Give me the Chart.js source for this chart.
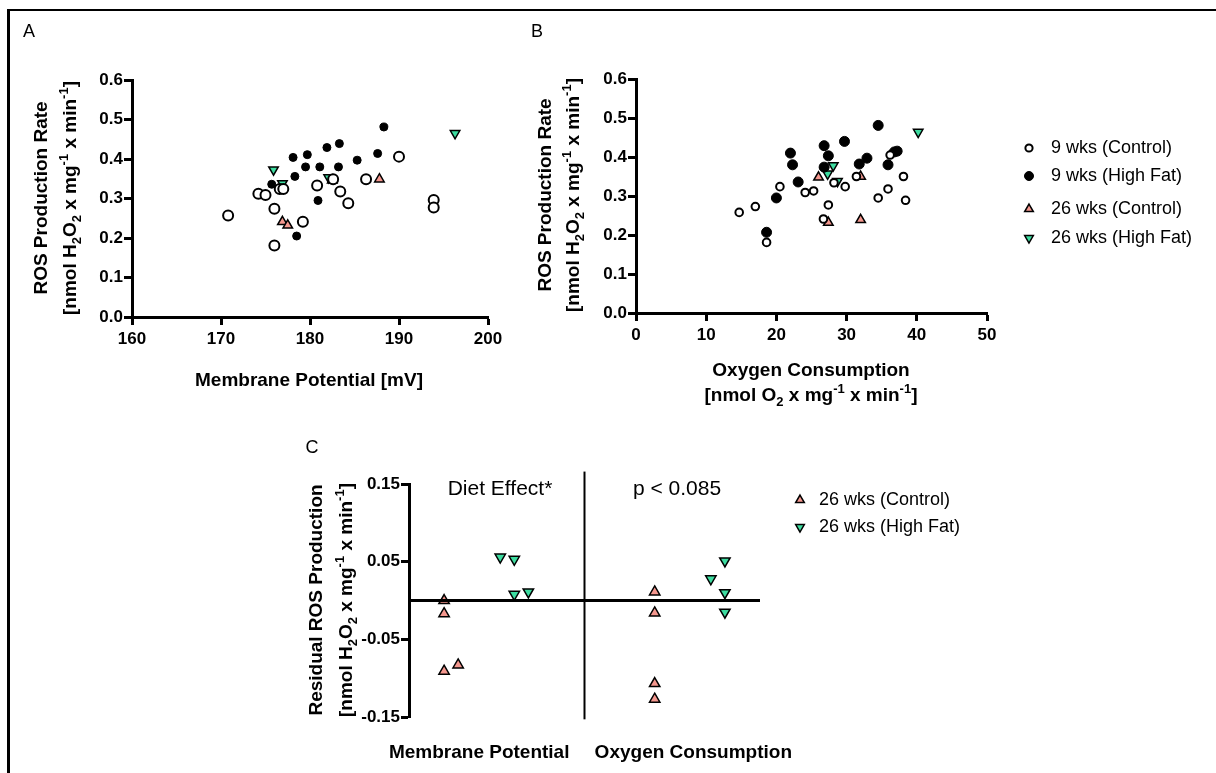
<!DOCTYPE html>
<html>
<head>
<meta charset="utf-8">
<title>ROS production vs membrane potential and oxygen consumption</title>
<script src="https://cdn.jsdelivr.net/npm/chart.js@4.4.1/dist/chart.umd.min.js"></script>
<style>
  html, body { margin: 0; padding: 0; background: #fff; }
  #stage { position: relative; width: 1216px; height: 773px; overflow: hidden; }
  #stage canvas { position: absolute; left: 0; top: 0; }
  #frame { position: absolute; left: 7px; top: 9px; width: 1240px; height: 800px;
           border-top: 2px solid #000; border-left: 3px solid #000; }
</style>
</head>
<body>
<div id="stage">
  <div id="frame"></div>
  <canvas id="chartA" width="1216" height="773"></canvas>
  <canvas id="chartB" width="1216" height="773"></canvas>
  <canvas id="chartC" width="1216" height="773"></canvas>
</div>
<script>
// ---- data ----
// Panel A: membrane potential [mV] vs ROS production rate
const mpCtl9 = [170.8, 174.2, 175.0, 176.0, 176.0, 176.6, 177.0, 179.2, 180.8, 182.6, 183.4, 184.3, 186.3, 190.0, 193.9, 193.9];
const rosCtl9A = [0.257, 0.312, 0.309, 0.274, 0.181, 0.324, 0.324, 0.241, 0.333, 0.349, 0.318, 0.288, 0.349, 0.406, 0.296, 0.277];
const mpHf9 = [175.7, 177.1, 178.1, 178.3, 178.5, 179.5, 179.7, 180.9, 181.1, 181.9, 183.2, 183.3, 185.3, 187.6, 188.3];
const rosHf9A = [0.336, 0.324, 0.404, 0.356, 0.205, 0.380, 0.411, 0.295, 0.380, 0.429, 0.380, 0.439, 0.397, 0.414, 0.481];
const mpCtl26 = [176.9, 177.5, 182.5, 187.8];
const rosCtl26A = [0.241, 0.232, 0.346, 0.349];
const mpHf26 = [175.9, 176.9, 182.1, 196.3];
const rosHf26A = [0.373, 0.338, 0.353, 0.465];

// Panel B: oxygen consumption vs ROS production rate
const ocCtl9 = [14.7, 17.0, 18.6, 20.5, 24.1, 25.3, 26.7, 27.4, 28.2, 29.8, 31.4, 34.5, 35.9, 36.2, 38.1, 38.4];
const rosCtl9B = [0.258, 0.273, 0.181, 0.324, 0.309, 0.313, 0.241, 0.277, 0.334, 0.324, 0.350, 0.295, 0.318, 0.405, 0.350, 0.289];
const ocHf9 = [18.6, 20.0, 22.0, 22.3, 23.1, 26.8, 27.4, 26.8, 29.7, 31.8, 32.9, 34.5, 35.9, 36.8, 37.2];
const rosHf9B = [0.207, 0.295, 0.410, 0.380, 0.336, 0.429, 0.403, 0.374, 0.440, 0.382, 0.397, 0.481, 0.380, 0.413, 0.415];
const ocCtl26 = [26.0, 27.4, 32.0, 32.0];
const rosCtl26B = [0.348, 0.232, 0.350, 0.239];
const ocHf26 = [27.3, 28.1, 28.7, 40.2];
const rosHf26B = [0.357, 0.378, 0.338, 0.464];

// Panel C: residuals, two groups with jittered positions
const groupNames = ['Membrane Potential', 'Oxygen Consumption'];
const groupCenters = [1, 4.05];
const residCtlX = [0.5, 0.5, 0.5, 0.7, 3.5, 3.5, 3.5, 3.5];
const residCtlY = [0.0, -0.017, -0.091, -0.083, 0.011, -0.016, -0.107, -0.127];
const residHfX = [1.3, 1.5, 1.5, 1.7, 4.3, 4.5, 4.5, 4.5];
const residHfY = [0.056, 0.053, 0.008, 0.011, 0.028, 0.051, 0.010, -0.015];
const residTicks = [-0.15, -0.05, 0.05, 0.15];
const groupDivider = 2.5;

const rosTicks = [0, 0.1, 0.2, 0.3, 0.4, 0.5, 0.6];
const mpTicks = [160, 170, 180, 190, 200];
const ocTicks = [0, 10, 20, 30, 40, 50];

const legendLabels = ['9 wks (Control)', '9 wks (High Fat)', '26 wks (Control)', '26 wks (High Fat)'];

// ---- styling ----
const FONT = '"Liberation Sans", Arial, Helvetica, sans-serif';
const SALMON = '#f4978e';
const TEAL = '#3ddca0';
const W = 1216, H = 773;

const marks = [
  { pointStyle: 'circle', pointRotation: 0, pointBackgroundColor: '#ffffff' },
  { pointStyle: 'circle', pointRotation: 0, pointBackgroundColor: '#000000' },
  { pointStyle: 'triangle', pointRotation: 0, pointBackgroundColor: SALMON },
  { pointStyle: 'triangle', pointRotation: 180, pointBackgroundColor: TEAL }
];

function points(xs, ys) {
  return xs.map((x, i) => ({ x: x, y: ys[i] }));
}

function scatterSet(xs, ys, mark, radius, borderWidth) {
  return Object.assign({
    data: points(xs, ys),
    pointRadius: radius,
    pointHoverRadius: radius,
    pointBorderColor: '#000',
    pointBorderWidth: borderWidth,
    clip: false
  }, mark);
}

function axis(min, max, tickValues, fmt, fitSize, isX) {
  return {
    type: 'linear',
    min: min,
    max: max,
    border: { display: true, color: '#000', width: 3 },
    grid: { display: true, drawOnChartArea: false, drawTicks: true, tickLength: 8, tickWidth: 3, tickColor: '#000' },
    ticks: {
      color: '#000',
      padding: isX ? 4 : 1,
      autoSkip: false,
      maxRotation: 0,
      font: { family: FONT, size: 17, weight: 'bold' },
      callback: (v) => fmt(v)
    },
    afterBuildTicks: (scale) => { scale.ticks = tickValues.map(v => ({ value: v })); },
    afterFit: (scale) => {
      if (isX) { scale.height = fitSize; } else { scale.width = fitSize; }
    }
  };
}

// chart area placed at fixed page coordinates
function areaPadding(left, top, right, bottom, yWidth, xHeight) {
  return { left: left - yWidth, top: top, right: W - right, bottom: H - bottom - xHeight };
}

// text with sub/superscripts, centred on (x, y)
function drawRich(ctx, item) {
  const size = item.size;
  const small = Math.round(size * 0.66);
  const weight = item.bold ? 'bold ' : '';
  ctx.save();
  ctx.translate(item.x, item.y);
  if (item.rotate) { ctx.rotate(-Math.PI / 2); }
  ctx.fillStyle = '#000';
  ctx.textBaseline = 'middle';
  ctx.textAlign = 'left';
  let total = 0;
  item.parts.forEach(p => {
    ctx.font = weight + (p[1] ? small : size) + 'px ' + FONT;
    total += ctx.measureText(p[0]).width;
  });
  let cx = item.align === 'left' ? 0 : -total / 2;
  item.parts.forEach(p => {
    ctx.font = weight + (p[1] ? small : size) + 'px ' + FONT;
    let dy = 0;
    if (p[1] === 'sub') { dy = size * 0.32; }
    if (p[1] === 'sup') { dy = -size * 0.36; }
    ctx.fillText(p[0], cx, dy);
    cx += ctx.measureText(p[0]).width;
  });
  ctx.restore();
}

function plain(t) { return [[t, '']]; }

const unitH2O2 = [['[nmol H', ''], ['2', 'sub'], ['O', ''], ['2', 'sub'], [' x mg', ''], ['-1', 'sup'], [' x min', ''], ['-1', 'sup'], [']', '']];
const unitO2 = [['[nmol O', ''], ['2', 'sub'], [' x mg', ''], ['-1', 'sup'], [' x min', ''], ['-1', 'sup'], [']', '']];

function textPlugin(id, items, legend) {
  return {
    id: id,
    afterDraw(chart) {
      const ctx = chart.ctx;
      items.forEach(it => drawRich(ctx, it));
      if (legend) {
        legend.rows.forEach(row => {
          const m = marks[row.idx];
          ctx.save();
          ctx.fillStyle = m.pointBackgroundColor;
          ctx.strokeStyle = '#000';
          ctx.lineWidth = row.border;
          Chart.helpers.drawPoint(ctx, {
            pointStyle: m.pointStyle, rotation: m.pointRotation,
            radius: row.radius, borderWidth: row.border
          }, legend.markX, row.y);
          ctx.restore();
          drawRich(ctx, { parts: plain(legendLabels[row.idx]), x: legend.textX, y: row.y, size: 18, align: 'left' });
        });
      }
    }
  };
}

const fmt1 = v => v.toFixed(1);
const fmt0 = v => String(v);
const fmt2 = v => v.toFixed(2);

const baseOptions = {
  responsive: false,
  animation: false,
  events: [],
  plugins: { legend: { display: false }, tooltip: { enabled: false } }
};

// ---- panel A ----
new Chart(document.getElementById('chartA'), {
  type: 'scatter',
  data: {
    datasets: [
      scatterSet(mpCtl9, rosCtl9A, marks[0], 5, 2),
      scatterSet(mpHf9, rosHf9A, marks[1], 4, 1),
      scatterSet(mpCtl26, rosCtl26A, marks[2], 5.5, 1.5),
      scatterSet(mpHf26, rosHf26A, marks[3], 5.5, 1.5)
    ]
  },
  options: Object.assign({}, baseOptions, {
    layout: { autoPadding: false, padding: areaPadding(132, 80, 488, 317, 60, 40) },
    scales: {
      x: axis(160, 200, mpTicks, fmt0, 40, true),
      y: axis(0, 0.6, rosTicks, fmt1, 60, false)
    }
  }),
  plugins: [textPlugin('textsA', [
    { parts: plain('A'), x: 29, y: 32, size: 18 },
    { parts: plain('ROS Production Rate'), x: 42, y: 198, size: 19, bold: true, rotate: true },
    { parts: unitH2O2, x: 71, y: 198, size: 19, bold: true, rotate: true },
    { parts: plain('Membrane Potential [mV]'), x: 309, y: 381, size: 19, bold: true }
  ])]
});

// ---- panel B ----
new Chart(document.getElementById('chartB'), {
  type: 'scatter',
  data: {
    datasets: [
      scatterSet(ocCtl9, rosCtl9B, marks[0], 3.8, 2),
      scatterSet(ocHf9, rosHf9B, marks[1], 5, 1),
      scatterSet(ocCtl26, rosCtl26B, marks[2], 5.5, 1.5),
      scatterSet(ocHf26, rosHf26B, marks[3], 5.5, 1.5)
    ]
  },
  options: Object.assign({}, baseOptions, {
    layout: { autoPadding: false, padding: areaPadding(636, 79, 987, 313, 60, 40) },
    scales: {
      x: axis(0, 50, ocTicks, fmt0, 40, true),
      y: axis(0, 0.6, rosTicks, fmt1, 60, false)
    }
  }),
  plugins: [textPlugin('textsB', [
    { parts: plain('B'), x: 537, y: 32, size: 18 },
    { parts: plain('ROS Production Rate'), x: 546, y: 195, size: 19, bold: true, rotate: true },
    { parts: unitH2O2, x: 574, y: 195, size: 19, bold: true, rotate: true },
    { parts: plain('Oxygen Consumption'), x: 811, y: 371, size: 19, bold: true },
    { parts: unitO2, x: 811, y: 396, size: 19, bold: true }
  ], {
    markX: 1029, textX: 1051,
    rows: [
      { idx: 0, y: 148, radius: 3.6, border: 2 },
      { idx: 1, y: 176, radius: 4.5, border: 1 },
      { idx: 2, y: 209, radius: 5, border: 1.5 },
      { idx: 3, y: 238, radius: 5, border: 1.5 }
    ]
  })]
});

// ---- panel C ----
new Chart(document.getElementById('chartC'), {
  type: 'scatter',
  data: {
    datasets: [
      { data: [{ x: 0, y: 0 }, { x: 5, y: 0 }], showLine: true, borderColor: '#000', borderWidth: 3, pointRadius: 0, clip: false },
      { data: [{ x: groupDivider, y: -0.153 }, { x: groupDivider, y: 0.166 }], showLine: true, borderColor: '#000', borderWidth: 2, pointRadius: 0, clip: false },
      scatterSet(residCtlX, residCtlY, marks[2], 6, 1.5),
      scatterSet(residHfX, residHfY, marks[3], 6, 1.5)
    ]
  },
  options: Object.assign({}, baseOptions, {
    layout: { autoPadding: false, padding: areaPadding(409, 484, 760, 717, 60, 45) },
    scales: {
      x: {
        type: 'linear', min: 0, max: 5,
        border: { display: false },
        grid: { display: false, drawTicks: false },
        ticks: {
          color: '#000', padding: 24, autoSkip: false, maxRotation: 0,
          font: { family: FONT, size: 19, weight: 'bold' },
          callback: (v, i) => groupNames[i]
        },
        afterBuildTicks: (scale) => { scale.ticks = groupCenters.map(v => ({ value: v })); },
        afterFit: (scale) => { scale.height = 45; }
      },
      y: axis(-0.15, 0.15, residTicks, fmt2, 60, false)
    }
  }),
  plugins: [textPlugin('textsC', [
    { parts: plain('C'), x: 312, y: 448, size: 18 },
    { parts: plain('Residual ROS Production'), x: 317, y: 600, size: 19, bold: true, rotate: true },
    { parts: unitH2O2, x: 347, y: 600, size: 19, bold: true, rotate: true },
    { parts: plain('Diet Effect*'), x: 500, y: 489, size: 21 },
    { parts: plain('p < 0.085'), x: 677, y: 489, size: 21 }
  ], {
    markX: 800, textX: 819,
    rows: [
      { idx: 2, y: 500, radius: 5, border: 1.5 },
      { idx: 3, y: 527, radius: 5, border: 1.5 }
    ]
  })]
});
</script>
</body>
</html>
